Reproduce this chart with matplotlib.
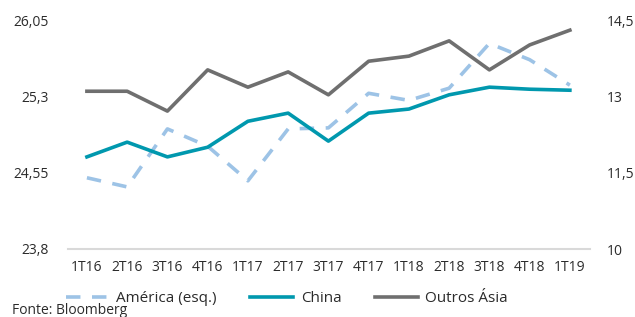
import matplotlib.pyplot as plt
from matplotlib.lines import Line2D

plt.rcParams['font.family'] = ['Open Sans', 'DejaVu Sans']

quarters = ['1T16', '2T16', '3T16', '4T16', '1T17', '2T17', '3T17',
            '4T17', '1T18', '2T18', '3T18', '4T18', '1T19']
america = [24.50, 24.41, 24.98, 24.81, 24.47, 24.98, 24.99,
           25.33, 25.26, 25.38, 25.82, 25.66, 25.41]
china = [11.81, 12.10, 11.81, 12.00, 12.51, 12.67, 12.12,
         12.67, 12.75, 13.03, 13.18, 13.14, 13.12]
outros_asia = [13.10, 13.10, 12.71, 13.52, 13.18, 13.48, 13.03,
               13.69, 13.79, 14.09, 13.52, 14.01, 14.30]

c_am = '#9DC3E6'
c_cn = '#0098AE'
c_oa = '#6F6F6F'
txt = '#2B2B2B'

fig = plt.figure(figsize=(6.35, 3.17), dpi=100)
ax = fig.add_axes([68/635, 68/317, 522/635, 229/317])
ax2 = ax.twinx()

x = range(len(quarters))
ax.plot(x, america, color=c_am, lw=2.6, dashes=(4, 3.2))
ax2.plot(x, china, color=c_cn, lw=2.6)
ax2.plot(x, outros_asia, color=c_oa, lw=2.6)

ax.set_xlim(-0.47, 12.5)
ax.set_ylim(23.8, 26.05)
ax2.set_ylim(10, 14.5)
ax.set_yticks([23.8, 24.55, 25.3, 26.05])
ax.set_yticklabels(['23,8', '24,55', '25,3', '26,05'])
ax2.set_yticks([10, 11.5, 13, 14.5])
ax2.set_yticklabels(['10', '11,5', '13', '14,5'])
ax.set_xticks(list(x))
ax.set_xticklabels(quarters)

for a in (ax, ax2):
    for s in a.spines.values():
        s.set_visible(False)
    a.tick_params(length=0, labelsize=10, colors=txt)
ax.spines['bottom'].set_visible(True)
ax.spines['bottom'].set_color('#D9D9D9')
ax.spines['bottom'].set_linewidth(1.5)
ax.tick_params(axis='y', pad=14)
ax.tick_params(axis='x', pad=8)
ax2.tick_params(axis='y', pad=12)

handles = [
    Line2D([], [], color=c_am, lw=2.6, dashes=(4, 3.2)),
    Line2D([], [], color=c_cn, lw=2.6),
    Line2D([], [], color=c_oa, lw=2.6),
]
fig.legend(handles, ['América (esq.)', 'China', 'Outros Ásia'],
           loc='center left', bbox_to_anchor=(52/635, 18/317), ncol=3, frameon=False,
           fontsize=11, handlelength=2.8, columnspacing=2.2, handletextpad=0.5,
           labelcolor=txt)
fig.text(12/635, 6/317, 'Fonte: Bloomberg', fontsize=10, color=txt, va='center')

fig.savefig('out.png', dpi=100)
